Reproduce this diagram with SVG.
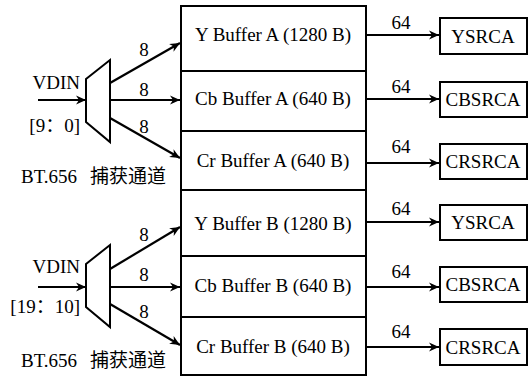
<svg xmlns="http://www.w3.org/2000/svg" width="528" height="378" viewBox="0 0 528 378">
<style>
text{font-family:"Liberation Serif","Times New Roman",serif;font-size:19px;fill:#000}
.c{text-anchor:middle}
.e{text-anchor:end}
.box{fill:#fff;stroke:#000;stroke-width:2}
.mux{fill:#fff;stroke:#000;stroke-width:2;stroke-linejoin:miter}
.ln{stroke:#000;stroke-width:2.2;fill:none}
.cjk{font-family:"Noto Sans CJK SC",sans-serif;font-size:19px}
</style>
<defs>
<marker id="ah" markerUnits="userSpaceOnUse" markerWidth="11" markerHeight="10" refX="10" refY="5" orient="auto">
<path d="M0,0.5 L10,5 L0,9.5 L3,5 z" fill="#000"/>
</marker>
</defs>
<rect width="528" height="378" fill="#fff"/>

<g id="connectors">
<line class="ln" x1="38" y1="100" x2="86" y2="100" marker-end="url(#ah)"/>
<line class="ln" x1="110" y1="83" x2="180" y2="43" marker-end="url(#ah)"/>
<line class="ln" x1="110" y1="100" x2="180" y2="100" marker-end="url(#ah)"/>
<line class="ln" x1="110" y1="118" x2="180" y2="158" marker-end="url(#ah)"/>
<line class="ln" x1="366" y1="35" x2="439" y2="35" marker-end="url(#ah)"/>
<line class="ln" x1="366" y1="99" x2="439" y2="99" marker-end="url(#ah)"/>
<line class="ln" x1="366" y1="163" x2="439" y2="163" marker-end="url(#ah)"/>

<line class="ln" x1="38" y1="287" x2="86" y2="287" marker-end="url(#ah)"/>
<line class="ln" x1="110" y1="269" x2="180" y2="227" marker-end="url(#ah)"/>
<line class="ln" x1="110" y1="287" x2="180" y2="287" marker-end="url(#ah)"/>
<line class="ln" x1="110" y1="304" x2="180" y2="345" marker-end="url(#ah)"/>
<line class="ln" x1="366" y1="222" x2="439" y2="222" marker-end="url(#ah)"/>
<line class="ln" x1="366" y1="287" x2="439" y2="287" marker-end="url(#ah)"/>
<line class="ln" x1="366" y1="347" x2="439" y2="347" marker-end="url(#ah)"/>

<text class="c" x="144" y="56">8</text>
<text class="c" x="144" y="96">8</text>
<text class="c" x="144" y="133">8</text>
<text class="c" x="401" y="29">64</text>
<text class="c" x="401" y="93">64</text>
<text class="c" x="401" y="153">64</text>

<text class="c" x="144" y="241">8</text>
<text class="c" x="144" y="281">8</text>
<text class="c" x="144" y="318">8</text>
<text class="c" x="401" y="215">64</text>
<text class="c" x="401" y="278">64</text>
<text class="c" x="401" y="338">64</text>
</g>

<g id="muxA">
<polygon class="mux" points="86,79 110,60 110,142 86,122"/>
<text class="e" x="80" y="89">VDIN</text>
<text class="e" x="80" y="132">[9<tspan class="cjk">：</tspan>0]</text>
<text x="21" y="183">BT.656<tspan class="cjk" x="90">捕获通道</tspan></text>
</g>
<g id="muxB">
<polygon class="mux" points="86,264 110,245 110,327 86,307"/>
<text class="e" x="80" y="273">VDIN</text>
<text class="e" x="80" y="313">[19<tspan class="cjk">：</tspan>10]</text>
<text x="21" y="367">BT.656<tspan class="cjk" x="90">捕获通道</tspan></text>
</g>

<g id="yBufA"><rect class="box" x="181" y="6" width="185" height="65"/><text class="c" x="273" y="41">Y Buffer A (1280 B)</text></g>
<g id="cbBufA"><rect class="box" x="181" y="71" width="185" height="60"/><text class="c" x="273" y="105">Cb Buffer A (640 B)</text></g>
<g id="crBufA"><rect class="box" x="181" y="131" width="185" height="59"/><text class="c" x="273" y="167">Cr Buffer A (640 B)</text></g>
<g id="yBufB"><rect class="box" x="181" y="190" width="185" height="66"/><text class="c" x="273" y="230">Y Buffer B (1280 B)</text></g>
<g id="cbBufB"><rect class="box" x="181" y="256" width="185" height="61"/><text class="c" x="273" y="292">Cb Buffer B (640 B)</text></g>
<g id="crBufB"><rect class="box" x="181" y="317" width="185" height="58"/><text class="c" x="273" y="353">Cr Buffer B (640 B)</text></g>

<g id="ysrcaA"><rect class="box" x="440" y="18" width="87" height="36"/><text class="c" x="483" y="43">YSRCA</text></g>
<g id="cbsrcaA"><rect class="box" x="440" y="82" width="87" height="35"/><text class="c" x="483" y="106">CBSRCA</text></g>
<g id="crsrcaA"><rect class="box" x="440" y="144" width="87" height="35"/><text class="c" x="483" y="168">CRSRCA</text></g>
<g id="ysrcaB"><rect class="box" x="440" y="205" width="87" height="35"/><text class="c" x="483" y="229">YSRCA</text></g>
<g id="cbsrcaB"><rect class="box" x="440" y="267" width="87" height="35"/><text class="c" x="483" y="291">CBSRCA</text></g>
<g id="crsrcaB"><rect class="box" x="440" y="329" width="87" height="36"/><text class="c" x="483" y="354">CRSRCA</text></g>
</svg>
